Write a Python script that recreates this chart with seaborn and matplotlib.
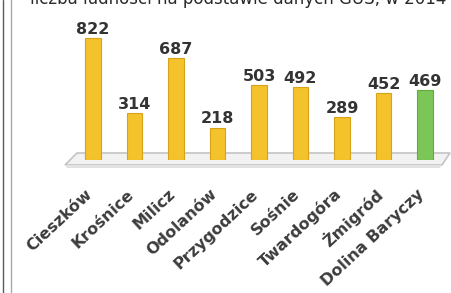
import numpy as np
import pandas as pd
import seaborn as sns
import matplotlib.pyplot as plt
from matplotlib.patches import Polygon
from matplotlib.lines import Line2D

# dane: ludnosc gmin (GUS)
gminy = ["Cieszków", "Krośnice", "Milicz", "Odolanów", "Przygodzice",
         "Sośnie", "Twardogóra", "Żmigród", "Dolina Baryczy"]
ludnosc = [822, 314, 687, 218, 503, 492, 289, 452, 469]
kolory = ["#F4C22B"] * 8 + ["#7CC657"]
tytul = "liczba ludności na podstawie danych GUS, w 2014 r."

sns.set_theme(style="white")
plt.rcParams["font.family"] = ["DejaVu Sans"]

W, H = 451, 293
fig = plt.figure(figsize=(W / 100, H / 100), dpi=100)
fig.patch.set_facecolor("white")


def px(x, y):
    """pixel (from top-left) -> figure fraction"""
    return x / W, 1 - y / H


# floor of the 3D chart
floor = Polygon([px(65, 165), px(77, 153), px(450, 153), px(442, 165)],
                closed=True, facecolor="#f2f2f2", edgecolor="#c4c4c4",
                lw=1.2, transform=fig.transFigure, zorder=0)
fig.add_artist(floor)
shadow = Polygon([px(65, 165), px(442, 165), px(440, 168), px(67, 168)],
                 closed=True, facecolor="#e2e2e2", edgecolor="none",
                 transform=fig.transFigure, zorder=0)
fig.add_artist(shadow)

# page borders on the left
fig.add_artist(Line2D([3 / W, 3 / W], [0, 1], color="#5a5a5a", lw=1.0,
                      transform=fig.transFigure))
fig.add_artist(Line2D([11 / W, 11 / W], [0, 1], color="#a8a8a8", lw=1.0,
                      transform=fig.transFigure))

# axes placed so that bar bases sit on the floor
left, bottom = px(65, 160)
right, top = px(448, 20)
ax = fig.add_axes([left, bottom, right - left, top - bottom])
ax.patch.set_visible(False)
ax.set_zorder(2)

df = pd.DataFrame({"gmina": gminy, "ludnosc": ludnosc})
sns.barplot(data=df, x="gmina", y="ludnosc", hue="gmina", palette=kolory,
            legend=False, width=0.385, ax=ax, saturation=1,
            edgecolor="#d6a31a", linewidth=0.8)
for p, c in zip(ax.patches, kolory):
    if c != kolory[0]:
        p.set_edgecolor("#5fae3c")

step = 41.5
ax.set_xlim(-(93 - 65) / step, 8 + (448 - 425) / step)
ax.set_ylim(0, 140 / 122 * 822)

for i, v in enumerate(ludnosc):
    ax.text(i, v + 28, str(v), ha="center", va="baseline",
            fontsize=11.5, fontweight="bold", color="#333333")

ax.set_xticks(range(len(gminy)))
ax.set_xticklabels([])
ax.set_yticks([])
ax.set_xlabel("")
ax.set_ylabel("")
sns.despine(ax=ax, left=True, bottom=True)

# rotated category labels below the floor
for i, g in enumerate(gminy):
    ax.annotate(g, xy=(i, 0), xytext=(-3, -32), textcoords="offset pixels",
                ha="right", va="center", rotation=43,
                rotation_mode="anchor", fontsize=11.5, fontweight="bold",
                color="#3c3c3c")

# cropped heading at the top
fig.text(30 / W, 1 - 4 / H, tytul, ha="left", va="baseline",
         fontsize=12, color="#2a2a2a")

fig.savefig("out.png", dpi=100)
